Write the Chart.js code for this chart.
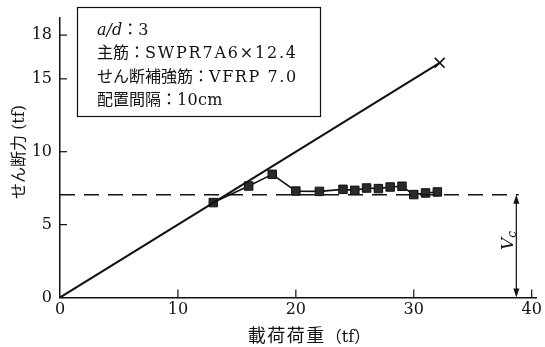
<!DOCTYPE html>
<html>
<head>
<meta charset="utf-8">
<script src="https://cdn.jsdelivr.net/npm/chart.js@4.4.1/dist/chart.umd.min.js"></script>
<style>
  html, body { margin: 0; padding: 0; background: #fff; }
  #wrap { width: 545px; height: 347px; position: relative; }
</style>
</head>
<body>
<div id="wrap"><canvas id="chart"></canvas></div>
<script>
//? DATA
const loadTf = [13, 16, 18, 20, 22, 24, 25, 26, 27, 28, 29, 30, 31, 32];
const shearTf = [6.51, 7.65, 8.45, 7.30, 7.28, 7.42, 7.35, 7.51, 7.47, 7.58, 7.63, 7.06, 7.17, 7.24];

const calcLineX = [0, 32.2];
const calcLineY = [0, 16.1];

const vcLevel = 7.05;      // dashed Vc line
const vcLineEnd = 38.9;
const vcArrowX = 38.7;

const xTickValues = [0, 10, 20, 30, 40];
const yTickValues = [0, 5, 10, 15, 18];

const xTitle = '載荷荷重';
const yTitle = 'せん断力 (tf)';
const unitText = '（tf）';
const noteLabels = ['主筋', 'せん断補強筋', '配置間隔'];
const noteValues = ['SWPR7A6×12.4', 'VFRP 7.0', '10cm'];

//? styles
const SERIF = '"DejaVu Serif", "Noto Sans CJK JP", serif';
const CJK = '"Noto Sans CJK JP", sans-serif';
const INK = '#111';
const noteSpacing = [1.8, 1.6, 0.3];

//? helper: turn 2 arrays into points
const toPoints = (xs, ys) => xs.map((x, i) => ({ x: x, y: ys[i] }));

//? draws text pieces one after another, each with own font + spacing
function drawRuns(ctx, x, y, runs, measureOnly) {
    let cx = x;
    runs.forEach(r => {
        ctx.font = r[1];
        ctx.letterSpacing = (r[2] || 0) + 'px';
        if (!measureOnly) ctx.fillText(r[0], cx, y);
        cx += ctx.measureText(r[0]).width;
    });
    ctx.letterSpacing = '0px';
    return cx - x;
}

//? plugin for the stuff chart.js doesnt draw itself
const extras = {
    id: 'extras',
    afterDraw(chart) {
        const ctx = chart.ctx;
        const xs = chart.scales.x;
        const ys = chart.scales.y;
        const area = chart.chartArea;
        ctx.save();
        ctx.strokeStyle = INK;
        ctx.fillStyle = INK;

        // inward ticks
        ctx.lineWidth = 1.2;
        xTickValues.forEach(v => {
            if (v === 0) return;
            const px = xs.getPixelForValue(v);
            ctx.beginPath();
            ctx.moveTo(px, area.bottom);
            ctx.lineTo(px, area.bottom - 8);
            ctx.stroke();
        });
        yTickValues.forEach(v => {
            if (v === 0) return;
            const py = ys.getPixelForValue(v);
            ctx.beginPath();
            ctx.moveTo(area.left, py);
            ctx.lineTo(area.left + 7, py);
            ctx.stroke();
        });

        // Vc double arrow
        const ax = xs.getPixelForValue(vcArrowX);
        const top = ys.getPixelForValue(vcLevel);
        const bot = ys.getPixelForValue(0);
        ctx.lineWidth = 1.2;
        ctx.beginPath();
        ctx.moveTo(ax, top + 6);
        ctx.lineTo(ax, bot - 6);
        ctx.stroke();
        ctx.beginPath();
        ctx.moveTo(ax, top);
        ctx.lineTo(ax - 3, top + 9);
        ctx.lineTo(ax + 3, top + 9);
        ctx.closePath();
        ctx.fill();
        ctx.beginPath();
        ctx.moveTo(ax, bot);
        ctx.lineTo(ax - 3, bot - 9);
        ctx.lineTo(ax + 3, bot - 9);
        ctx.closePath();
        ctx.fill();

        // Vc label (rotated)
        ctx.save();
        ctx.translate(ax - 3, (top + bot) / 2 - 4);
        ctx.rotate(-Math.PI / 2);
        ctx.textBaseline = 'alphabetic';
        ctx.textAlign = 'left';
        ctx.font = 'italic 17px ' + SERIF;
        const vw = ctx.measureText('V').width;
        ctx.fillText('V', -8, 0);
        ctx.font = 'italic 12px ' + SERIF;
        ctx.fillText('c', -8 + vw, 3);
        ctx.restore();

        // note box
        ctx.lineWidth = 1.2;
        ctx.strokeRect(77.5, 7.5, 243, 109);
        ctx.textBaseline = 'alphabetic';
        ctx.textAlign = 'left';
        drawRuns(ctx, 97, 35, [['a/d', 'italic 16px ' + SERIF, 0], ['：3', '16px ' + SERIF, 0]]);
        noteLabels.forEach((lab, i) => {
            drawRuns(ctx, 97, 58 + i * 23.5, [
                [lab + '：', '16px ' + CJK, 0],
                [noteValues[i], '16px "DejaVu Serif", serif', noteSpacing[i]]
            ]);
        });

        // axis titles
        const xRuns = [[xTitle, '18px ' + CJK, 1.5], [unitText, '16px ' + SERIF, 0]];
        const tw = drawRuns(ctx, 0, 0, xRuns, true);
        drawRuns(ctx, 309 - tw / 2, 342, xRuns);

        ctx.save();
        ctx.translate(20, 152);
        ctx.rotate(-Math.PI / 2);
        ctx.textAlign = 'center';
        ctx.textBaseline = 'middle';
        ctx.font = '16px ' + SERIF;
        ctx.fillText(yTitle, 0, 0);
        ctx.restore();

        ctx.restore();
    }
};

new Chart(document.getElementById('chart'), {
    type: 'scatter',
    data: {
        datasets: [
            {
                // calculated line with X at the end
                data: toPoints(calcLineX, calcLineY),
                showLine: true,
                borderColor: INK,
                borderWidth: 2,
                pointStyle: 'crossRot',
                pointRadius: [0, 7],
                pointBorderWidth: 1.6,
                pointBorderColor: INK,
                tension: 0
            },
            {
                // Vc dashed level
                data: [{ x: 0, y: vcLevel }, { x: vcLineEnd, y: vcLevel }],
                showLine: true,
                borderColor: INK,
                borderWidth: 1.4,
                borderDash: [15, 9],
                pointRadius: 0
            },
            {
                // measured
                data: toPoints(loadTf, shearTf),
                showLine: true,
                borderColor: INK,
                borderWidth: 1.6,
                pointStyle: 'rect',
                pointRadius: 6,
                pointBackgroundColor: '#2a2a2a',
                pointBorderColor: INK,
                pointBorderWidth: 1,
                tension: 0
            }
        ]
    },
    options: {
        responsive: true,
        maintainAspectRatio: false,
        animation: false,
        layout: { padding: { top: 17, right: 5, left: 0, bottom: 0 } },
        plugins: {
            legend: { display: false },
            tooltip: { enabled: false }
        },
        scales: {
            x: {
                type: 'linear',
                min: 0, max: 40.4,
                afterBuildTicks: (s) => { s.ticks = xTickValues.map(v => ({ value: v })); },
                afterFit: (s) => { s.height = 49.5; },
                grid: { display: false, drawTicks: false },
                border: { display: true, color: INK, width: 1.5 },
                ticks: {
                    color: INK,
                    padding: 3,
                    maxRotation: 0,
                    font: { family: SERIF, size: 16 }
                }
            },
            y: {
                type: 'linear',
                min: 0, max: 19.2,
                afterBuildTicks: (s) => { s.ticks = yTickValues.map(v => ({ value: v })); },
                afterFit: (s) => { s.width = 60; },
                grid: { display: false, drawTicks: false },
                border: { display: true, color: INK, width: 1.5 },
                ticks: {
                    color: INK,
                    padding: 8,
                    font: { family: SERIF, size: 16 }
                }
            }
        }
    },
    plugins: [extras]
});
</script>
</body>
</html>
